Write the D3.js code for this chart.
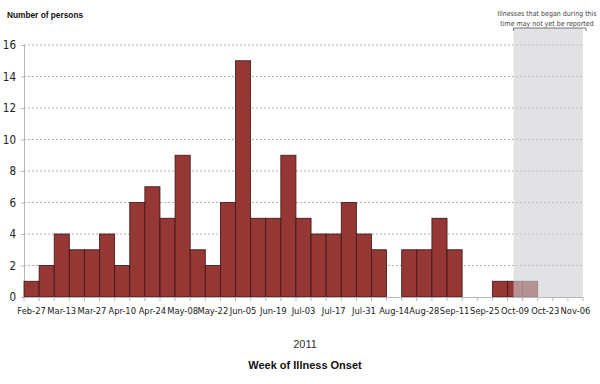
<!DOCTYPE html>
<html><head><meta charset="utf-8">
<script src="https://cdn.jsdelivr.net/npm/d3@7"></script>
<style>
body{margin:0;background:#fff;}
svg{display:block;}
.cond{font-family:"DejaVu Sans Condensed","Liberation Sans Narrow",sans-serif;font-stretch:condensed;}
</style></head>
<body><svg id="c" width="600" height="384"></svg>
<script>
const weeks = ["Feb-27","Mar-06","Mar-13","Mar-20","Mar-27","Apr-03","Apr-10","Apr-17","Apr-24","May-01","May-08","May-15","May-22","May-29","Jun-05","Jun-12","Jun-19","Jun-26","Jul-03","Jul-10","Jul-17","Jul-24","Jul-31","Aug-07","Aug-14","Aug-21","Aug-28","Sep-04","Sep-11","Sep-18","Sep-25","Oct-02","Oct-09","Oct-16","Oct-23","Oct-30","Nov-06"];
const cases = [1,2,4,3,3,4,2,6,7,5,9,3,2,6,15,5,5,9,5,4,4,6,4,3,0,3,3,5,3,0,0,1,1,1,0,0,0];
const tickLabels = ["Feb-27","Mar-13","Mar-27","Apr-10","Apr-24","May-08","May-22","Jun-05","Jun-19","Jul-03","Jul-17","Jul-31","Aug-14","Aug-28","Sep-11","Sep-25","Oct-09","Oct-23","Nov-06"];
const yTicks = [0,2,4,6,8,10,12,14,16];
const shadeFrom = "Oct-09";
const yearLabel = "2011";
const xTitle = "Week of Illness Onset";
const yTitle = "Number of persons";
const note = ["Illnesses that began during this","time may not yet be reported"];

const svg = d3.select("#c");
const L = 24, R = 583, T = 45, B = 297;
const x = d3.scaleBand().domain(weeks).range([L, R]).padding(0);
const y = d3.scaleLinear().domain([0, 16]).range([B, T]);

// gridlines
svg.append("g").selectAll("line").data(yTicks.filter(d => d > 0)).join("line")
  .attr("x1", L).attr("x2", R).attr("y1", d => y(d)).attr("y2", d => y(d))
  .attr("stroke", "#b0b0b0").attr("stroke-width", 1).attr("stroke-dasharray", "2,2");

// y axis
const ya = svg.append("g").attr("transform", `translate(${L},0)`)
  .call(d3.axisLeft(y).tickValues(yTicks).tickSize(3).tickPadding(5));
ya.select(".domain").attr("stroke", "#b8b8b8");
ya.selectAll(".tick line").attr("stroke", "#b8b8b8");
ya.selectAll(".tick text").attr("class", "cond").attr("font-size", 11.5).attr("fill", "#222");

// bars
svg.append("g").selectAll("rect").data(weeks.map((w, i) => ({w, v: cases[i]})).filter(d => d.v > 0)).join("rect")
  .attr("x", d => x(d.w)).attr("width", x.bandwidth())
  .attr("y", d => y(d.v)).attr("height", d => y(0) - y(d.v))
  .attr("fill", "#953735").attr("stroke", "#3b1413").attr("stroke-width", 0.8);

// shaded region
const sx = x(shadeFrom) + x.bandwidth() * 0.4;
svg.append("rect").attr("x", sx).attr("y", 28).attr("width", R - sx).attr("height", B - 28)
  .attr("fill", "#cfcfd3").attr("opacity", 0.6);

// bracket
const bx2 = R + 3;
svg.append("path").attr("d", `M${sx},31 V28 H${bx2} V31`).attr("fill", "none")
  .attr("stroke", "#555").attr("stroke-width", 0.8);
svg.append("g").selectAll("text").data(note).join("text").attr("class", "cond")
  .attr("x", 547).attr("y", (d, i) => 16 + i * 10).attr("text-anchor", "middle")
  .attr("font-size", 7).attr("fill", "#444").text(d => d);

// x axis line and boundary ticks
svg.append("line").attr("x1", L).attr("x2", R).attr("y1", B + 0.5).attr("y2", B + 0.5).attr("stroke", "#b8b8b8");
svg.append("g").selectAll("line").data(weeks.map(w => x(w)).concat([R])).join("line")
  .attr("x1", d => d).attr("x2", d => d).attr("y1", B).attr("y2", B + 4).attr("stroke", "#b8b8b8");

// x labels
const xa = svg.append("g").attr("transform", `translate(0,${B})`)
  .call(d3.axisBottom(x).tickValues(tickLabels).tickSize(0).tickPadding(10));
xa.select(".domain").remove();
xa.selectAll(".tick text").attr("class", "cond").attr("font-size", 9.3).attr("fill", "#222");

// titles
svg.append("text").attr("x", 7).attr("y", 18).attr("font-size", 8.3).attr("font-weight", "bold")
  .style("font-family", "'Liberation Sans',Arial,sans-serif").attr("fill", "#111").text(yTitle);
svg.append("text").attr("x", 305).attr("y", 348).attr("text-anchor", "middle").attr("font-size", 11)
  .style("font-family", "'Liberation Sans',Arial,sans-serif").attr("fill", "#333").text(yearLabel);
svg.append("text").attr("x", 305).attr("y", 369).attr("text-anchor", "middle").attr("font-size", 11)
  .attr("font-weight", "bold").style("font-family", "'Liberation Sans',Arial,sans-serif").attr("fill", "#111").text(xTitle);
</script></body></html>
